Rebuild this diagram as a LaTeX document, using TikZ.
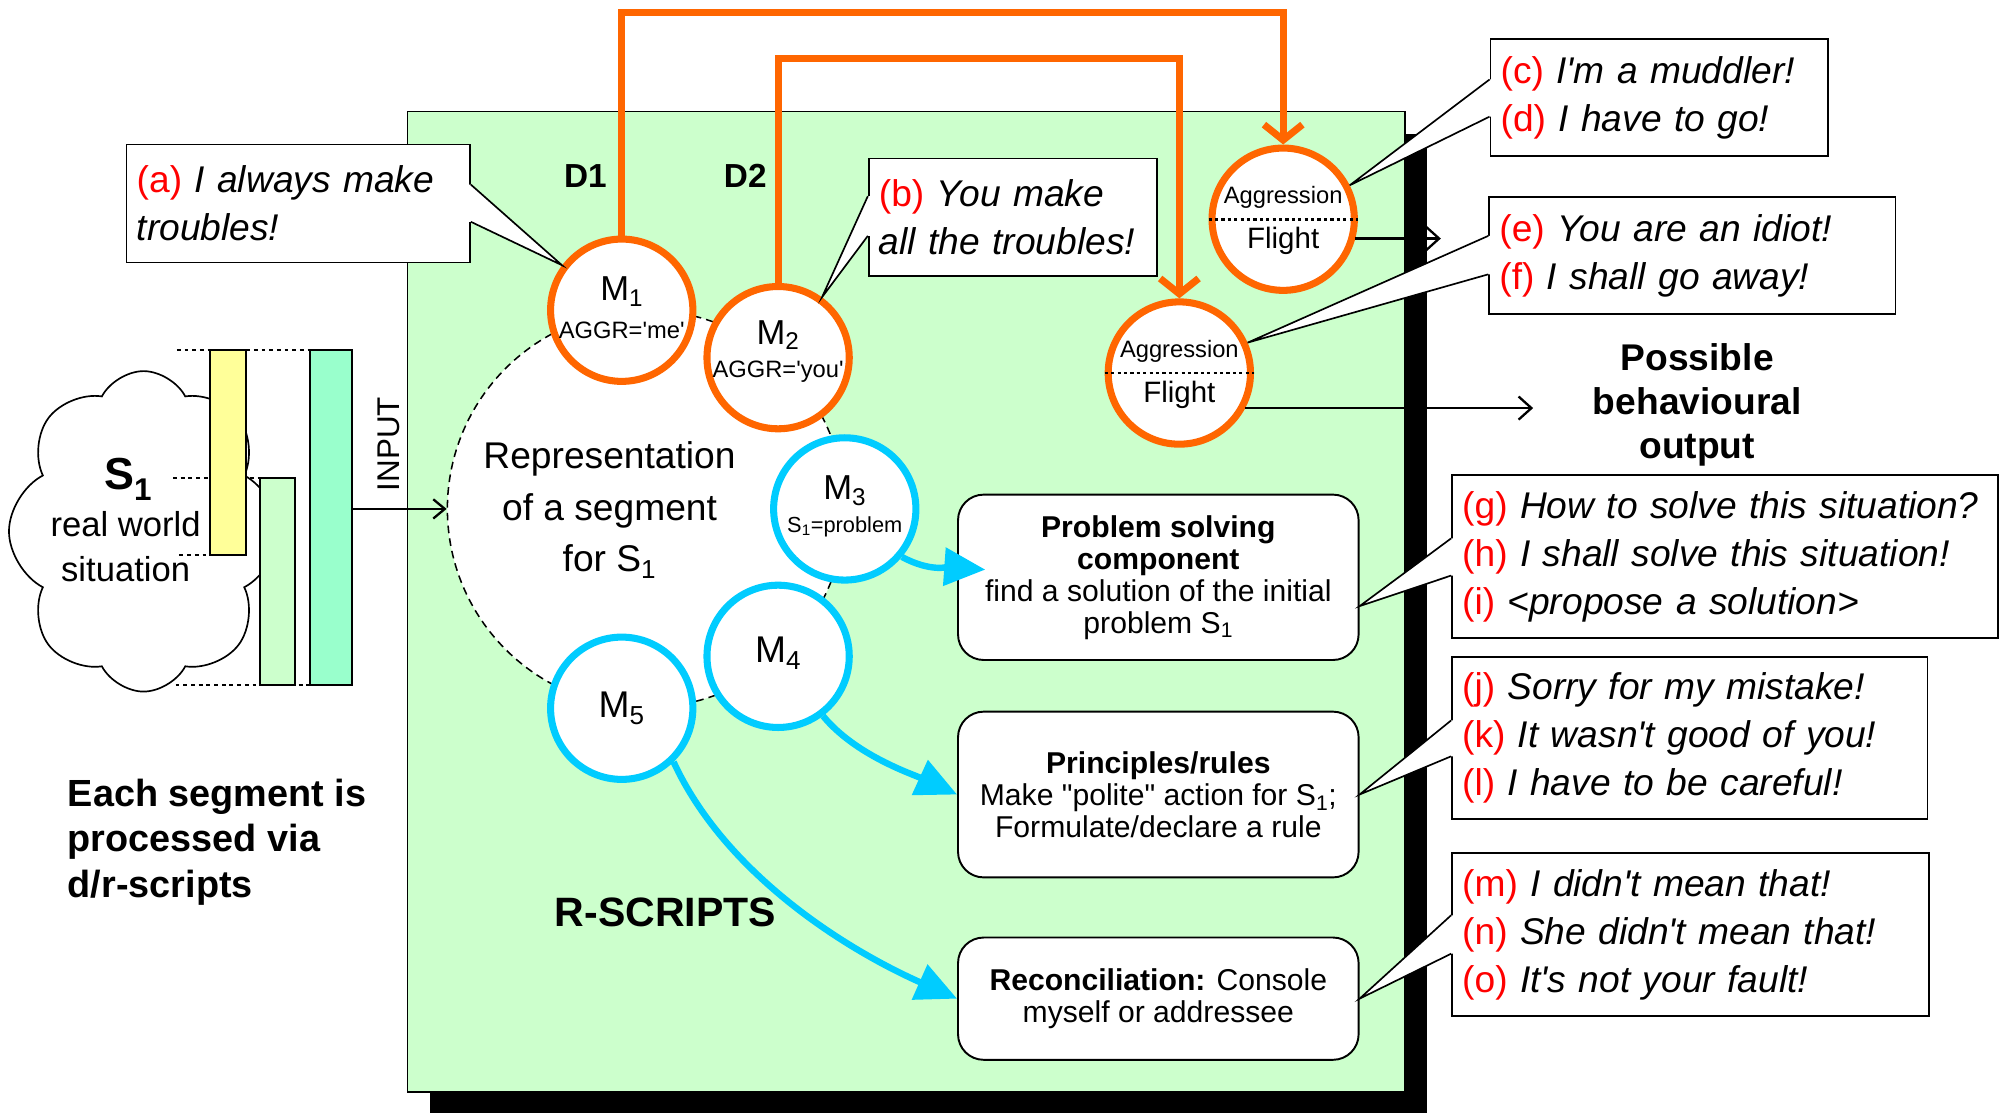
\documentclass[tikz,border=0pt]{standalone}
\usepackage{fontspec}
\setmainfont{Liberation Sans}
\usetikzlibrary{arrows.meta,shapes.symbols,calc}

\definecolor{panelgreen}{HTML}{CCFFCC}
\definecolor{dorange}{HTML}{FF6600}
\definecolor{rcyan}{HTML}{00CCFF}
\definecolor{baryellow}{HTML}{FFFF99}
\definecolor{barpale}{HTML}{CCFFCC}
\definecolor{barmint}{HTML}{99FFCC}

\newcommand\fs[2]{\fontsize{#1}{#2}\selectfont}
\newcommand\qtag[1]{\textcolor{red}{(#1)}}
\newcommand\qm{\textquotesingle}
% speech-bubble pointers: box, first and second offset below the top edge, tip
\newcommand\rptr[4]{%
  \fill[white] ($(#1.north east)+(-2,#2)$) -- ($(#1.north east)+(0,#2)$) -- (#4)
     -- ($(#1.north east)+(0,#3)$) -- ($(#1.north east)+(-2,#3)$) -- cycle;
  \draw[ptr] ($(#1.north east)+(0,#2)$) -- (#4) -- ($(#1.north east)+(0,#3)$);}
\newcommand\lptr[4]{%
  \fill[white] ($(#1.north west)+(2,#2)$) -- ($(#1.north west)+(0,#2)$) -- (#4)
     -- ($(#1.north west)+(0,#3)$) -- ($(#1.north west)+(2,#3)$) -- cycle;
  \draw[ptr] ($(#1.north west)+(0,#2)$) -- (#4) -- ($(#1.north west)+(0,#3)$);}

\begin{document}
\begin{tikzpicture}[x=1pt, y=-1pt,
  mcirc/.style={circle, draw, fill=white, line width=5.5pt, minimum size=111pt, inner sep=0pt},
  dcirc/.style={mcirc, draw=dorange},
  rcirc/.style={mcirc, draw=rcyan},
  quote/.style={draw, fill=white, line width=1.3pt, anchor=north west, align=left,
                inner xsep=8pt, inner ysep=0pt, font=\fs{29}{37.5}},
  task/.style={draw, fill=white, line width=1.5pt, rounded corners=20pt, anchor=north west,
               align=center, inner sep=0pt, minimum width=312.5pt, font=\fs{23.5}{25}},
  segbar/.style={draw, line width=1.8pt, anchor=north west, inner sep=0pt, outer sep=0pt},
  dline/.style={draw=dorange, line width=5.5pt, -{Straight Barb[length=12pt,width=30pt]}},
  rline/.style={draw=rcyan, line width=5pt, -{Triangle[length=32pt,width=29pt]}},
  outarrow/.style={line width=1.8pt, -{Straight Barb[length=10pt,width=18pt]}},
  guide/.style={line width=1.6pt, dash pattern=on 3pt off 3pt},
  ptr/.style={line width=1.3pt},
  midline/.style={line width=2.2pt, dash pattern=on 2.5pt off 2.5pt},
]
\useasboundingbox (0,0) rectangle (1568,868);

% ---- real world situation and its segments
\node[cloud, draw, fill=white, line width=1.3pt, cloud puffs=8, cloud puff arc=125,
      aspect=0.83, minimum width=210pt, minimum height=250pt, inner sep=0pt] (world) at (112,414.5) {};
\node[font=\fs{35}{40}\bfseries, anchor=base] (s1) at (100,382) {S\textsubscript{1}};
\node[font=\fs{27}{30}, anchor=base] (rw) at (98,418.6) {real world};
\node[font=\fs{27}{30}, anchor=base] (sit) at (98,453.7) {situation};

\draw[guide] (138,273) -- (242,273);
\draw[guide] (135,373) -- (203,373);
\draw[guide] (140,433) -- (164,433);
\draw[guide] (137,534) -- (242,534);

\node[segbar, fill=baryellow, minimum width=28pt, minimum height=160pt] (seg1) at (164,273) {};
\node[segbar, fill=barpale, minimum width=27.3pt, minimum height=161.5pt] (seg2) at (202.8,372.9) {};
\node[segbar, fill=barmint, minimum width=32.8pt, minimum height=261.4pt] (seg3) at (241.8,273) {};

% ---- R-scripts panel with its shadow
\fill (335.5,104.5) rectangle (1113.5,869.5);
\draw[fill=panelgreen, line width=1.3pt] (318,87) rectangle (1096,852);

\node[font=\fs{24.5}{28}, rotate=90] (inp) at (303,346.5) {INPUT};

% ---- segment representation
\node[circle, draw, fill=white, line width=1.2pt, dash pattern=on 6pt off 4pt,
      minimum size=310pt, inner sep=0pt] (rep) at (504,397) {};
\node[font=\fs{29}{40}, align=center] (reptext) at (475.5,398) {Representation\\of a segment\\for S\textsubscript{1}};
\draw[line width=1.8pt, -{Straight Barb[length=9pt,width=15pt]}] (seg3.east |- rep.west) -- (rep.west);

\node[font=\fs{26}{30}\bfseries] (d1) at (456.6,137.5) {D1};
\node[font=\fs{26}{30}\bfseries] (d2) at (581.4,137.5) {D2};
\node[font=\fs{32}{36}\bfseries] (rs) at (519,712) {R-SCRIPTS};

% ---- scripts
\node[dcirc] (M1) at (485,242) {};
\node[dcirc] (M2) at (607,279) {};
\node[rcirc] (M3) at (659,397) {};
\node[rcirc] (M4) at (607,512) {};
\node[rcirc] (M5) at (485,552.5) {};
\node[dcirc] (agg1) at (1001,171) {};
\node[dcirc] (agg2) at (920,291) {};

\node[font=\fs{18.5}{29}, align=center] (M1t) at ($(M1)+(0,-2)$) {{\fs{27}{29}M\textsubscript{1}}\\AGGR=\qm me\qm};
\node[font=\fs{18.5}{26}, align=center] (M2t) at ($(M2)+(0,-5)$) {{\fs{27}{29}M\textsubscript{2}}\\AGGR=\qm you\qm};
\node[font=\fs{17}{26}, align=center] (M3t) at ($(M3)+(0,-2)$) {{\fs{27}{29}M\textsubscript{3}}\\S\textsubscript{1}=problem};
\node[font=\fs{29}{32}] (M4t) at ($(M4)+(0,-2.6)$) {M\textsubscript{4}};
\node[font=\fs{29}{32}] (M5t) at (M5) {M\textsubscript{5}};

\node[font=\fs{23}{35}, align=center] (agg1t) at ($(agg1)+(0,1)$) {{\fs{18.5}{20}Aggression}\\Flight};
\node[font=\fs{23}{35}, align=center] (agg2t) at ($(agg2)+(0,1)$) {{\fs{18.5}{20}Aggression}\\Flight};
\draw[midline] (agg1.west) -- (agg1.east);
\draw[midline] (agg2.west) -- (agg2.east);

% ---- components reached by the r-scripts
\node[task, minimum height=129pt] (ps) at (746.6,385.1)
  {\textbf{Problem solving}\\\textbf{component}\\find a solution of the initial\\problem S\textsubscript{1}};
\node[task, minimum height=129.3pt] (pr) at (746.6,554.4)
  {\textbf{Principles/rules}\\Make \textquotedbl polite\textquotedbl\ action for S\textsubscript{1};\\Formulate/declare a rule};
\node[task, minimum height=95.4pt] (rc) at (746.6,730.6)
  {\textbf{Reconciliation:} Console\\myself or addressee};

\coordinate (psin) at ($(ps.west)+(22,-6)$);
\draw[rline] (M3.320) .. controls ($(M3.320)+(22,12)$) and ($(psin)+(-28,-2)$) .. (psin);
\draw[rline] (M4.307) .. controls ($(M4.307)+(25,30.5)$) and ($(pr.west)+(-35,-16)$) .. (pr.west);
\draw[rline] (M5.314) .. controls ($(M5.314)+(39.5,85.6)$) and ($(rc.west)+(-90,-40)$) .. (rc.west);

% ---- d-scripts towards aggression / flight
\coordinate (d1top) at (0,9.5);
\coordinate (d2top) at (0,46);
\draw[dline] (M1.north) -- (M1.north |- d1top) -| (agg1.north);
\draw[dline] (M2.north) -- (M2.north |- d2top) -| (agg2.north);

\coordinate (o1) at (1124,186);
\coordinate (o2) at (1196,318);
\draw[outarrow] (agg1.345) -- (agg1.345 -| o1);
\draw[outarrow] (agg2.332) -- (agg2.332 -| o2);

% ---- utterances
\node[quote, text width=252pt, minimum height=92pt] (qa) at (98,112)
  {\qtag{a} \textit{I always make}\\\textit{troubles!}};
\rptr{qa}{32}{61}{M1.143}
\node[quote, text width=209pt, minimum height=91.5pt] (qb) at (677,123)
  {\qtag{b} \textit{You make}\\\textit{all the troubles!}};
\lptr{qb}{30}{61}{M2.54}
\node[quote, text width=247.5pt, minimum height=91pt] (qc) at (1162,30)
  {\qtag{c} \textit{I\qm m a muddler!}\\\qtag{d} \textit{I have to go!}};
\lptr{qc}{32}{61}{agg1.27}
\node[quote, text width=301pt, minimum height=91.4pt] (qe) at (1161,153)
  {\qtag{e} \textit{You are an idiot!}\\\qtag{f} \textit{I shall go away!}};
\lptr{qe}{31}{61}{agg2.24}
\node[quote, text width=410pt, minimum height=127pt] (qg) at (1132,370)
  {\qtag{g} \textit{How to solve this situation?}\\\qtag{h} \textit{I shall solve this situation!}\\\qtag{i} \textit{<propose a solution>}};
\coordinate (pstip) at ($(ps.east)+(0,22.5)$);
\lptr{qg}{50}{79}{pstip}
\node[quote, text width=355pt, minimum height=126pt] (qj) at (1132,512)
  {\qtag{j} \textit{Sorry for my mistake!}\\\qtag{k} \textit{It wasn\qm t good of you!}\\\qtag{l} \textit{I have to be careful!}};
\lptr{qj}{50}{78}{pr.east}
\node[quote, text width=356pt, minimum height=127pt] (qm) at (1132,665)
  {\qtag{m} \textit{I didn\qm t mean that!}\\\qtag{n} \textit{She didn\qm t mean that!}\\\qtag{o} \textit{It\qm s not your fault!}};
\lptr{qm}{49}{79}{rc.east}

\node[font=\fs{29}{34.5}\bfseries, align=center] (pbo) at (1324,316) {Possible\\behavioural\\output};
\node[font=\fs{29.5}{35.5}\bfseries, align=left, anchor=west] (note) at (49.4,657)
  {Each segment is\\processed via\\d/r-scripts};
\end{tikzpicture}
\end{document}
